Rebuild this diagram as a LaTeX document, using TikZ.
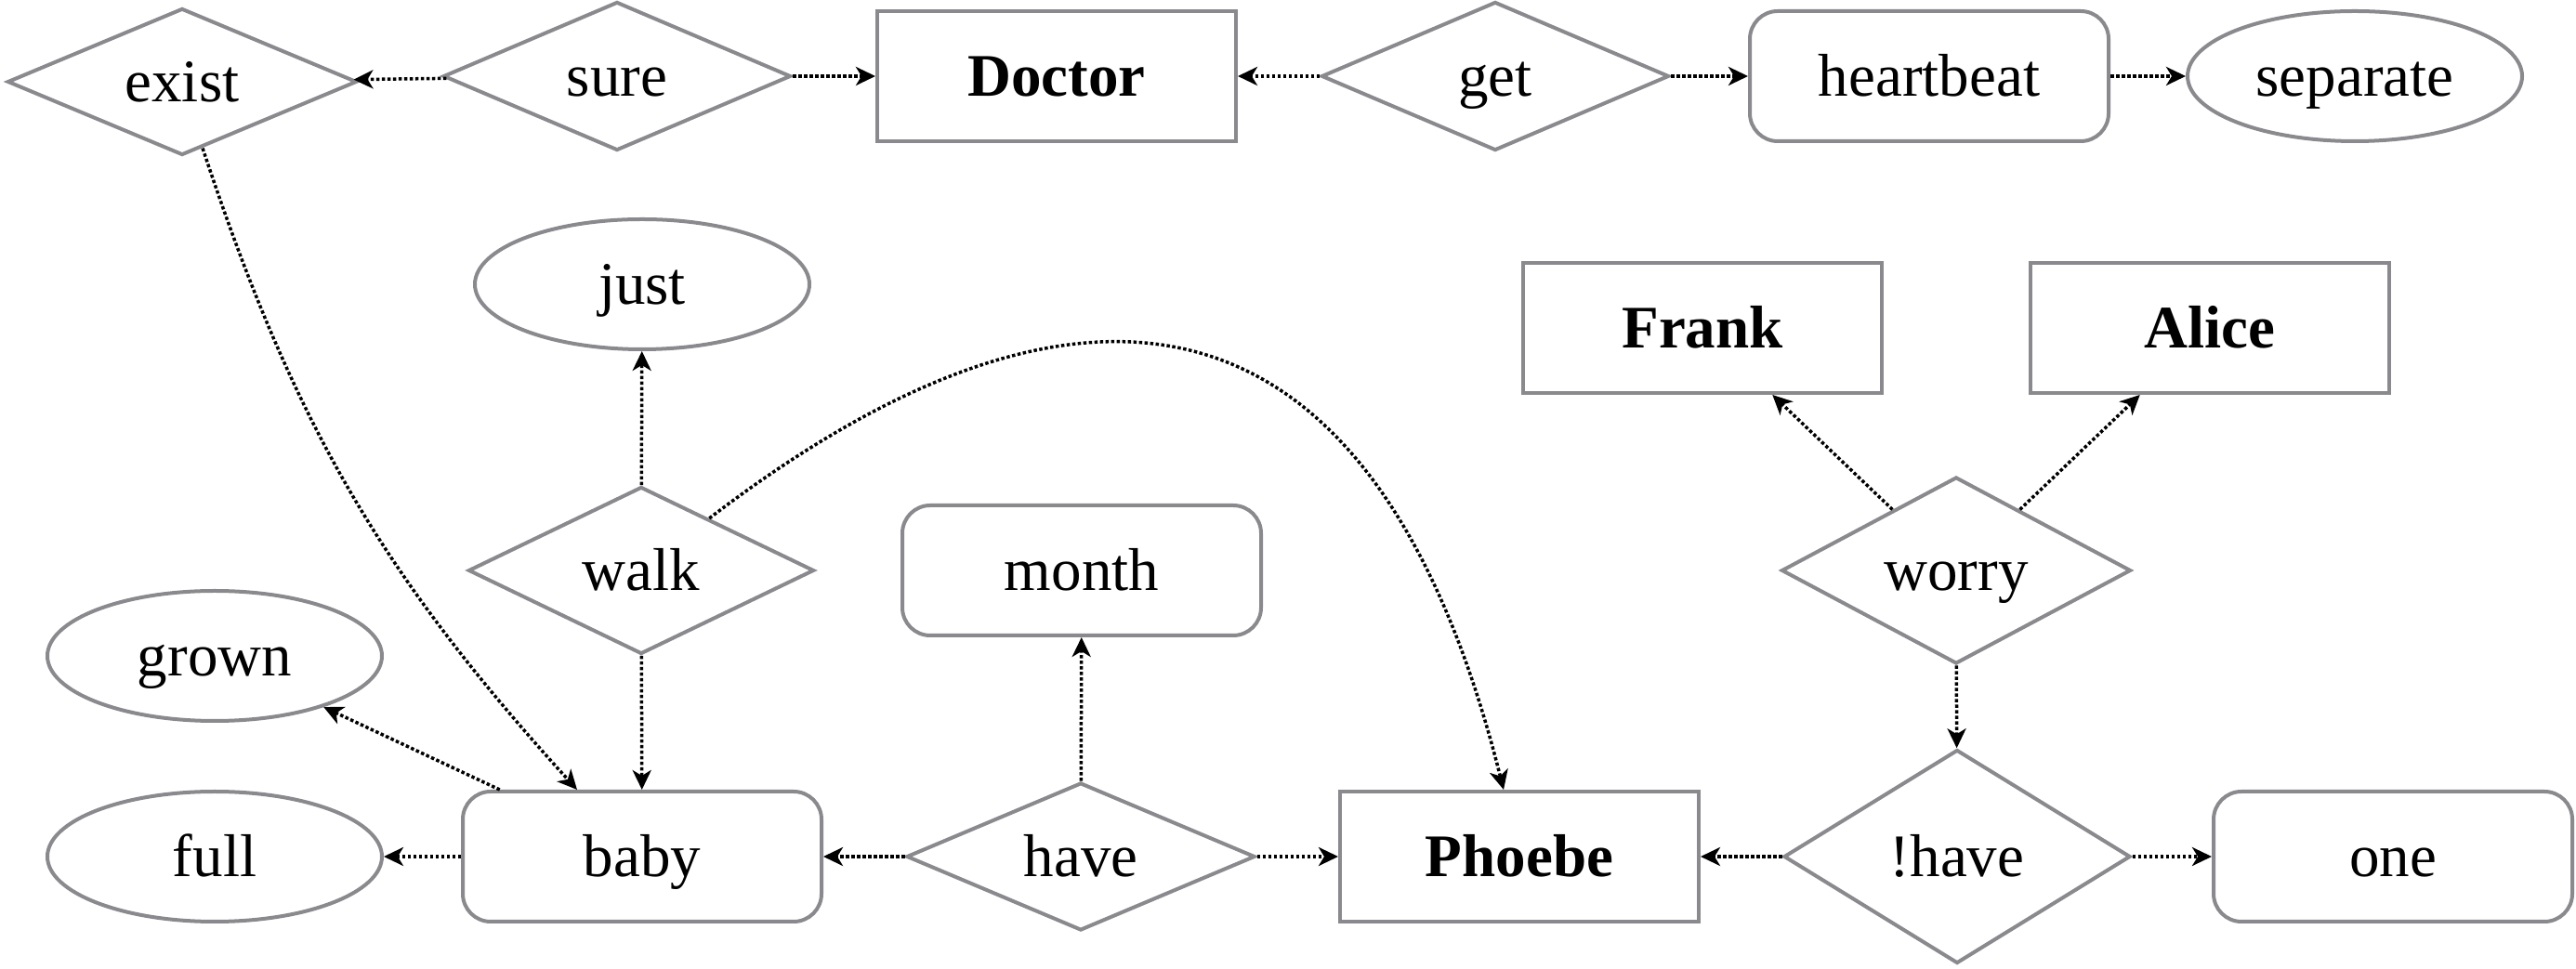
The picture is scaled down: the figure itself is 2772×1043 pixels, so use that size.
\documentclass[tikz,border=0pt]{standalone}
\usepackage{fontspec}
\setmainfont{Liberation Serif}
\usetikzlibrary{shapes.geometric,arrows.meta}
\definecolor{bordergray}{RGB}{138,138,142}
\tikzset{
  base/.style={draw=bordergray, line width=4pt, inner sep=0pt, align=center,
    text height=58pt, text depth=14pt,
    font=\fontsize{65}{78}\selectfont},
  entbox/.style={base, rectangle, minimum width=386pt, minimum height=140pt, font=\fontsize{65}{78}\selectfont\bfseries},
  roundbox/.style={base, rectangle, rounded corners=30pt, minimum width=386pt, minimum height=140pt},
  ellbox/.style={base, ellipse, minimum width=360pt, minimum height=140pt},
  relbox/.style={base, diamond, aspect=2.5, minimum width=374pt, minimum height=160pt},
  conn/.style={line width=3.5pt, dash pattern=on 3.5pt off 2.5pt,
    -{Stealth[length=21pt,width=20pt,inset=6pt]}}
}
\begin{document}
\begin{tikzpicture}[x=1pt,y=1pt]
\useasboundingbox (0,0) rectangle (2772,1043);
% top row
\node[relbox, minimum width=376pt, minimum height=158pt] (exist) at (196,955) {exist};
\node[relbox] (sure) at (664,961) {sure};
\node[entbox] (doctor) at (1137,961) {Doctor};
\node[relbox] (get) at (1609,961) {get};
\node[roundbox] (heartbeat) at (2076,961) {heartbeat};
\node[ellbox] (separate) at (2534,961) {separate};
% second row
\node[ellbox] (just) at (691,737) {just};
\node[entbox] (frank) at (1832,690) {Frank};
\node[entbox] (alice) at (2378,690) {Alice};
% middle row
\node[relbox, minimum width=372pt, minimum height=180pt] (walk) at (690,429) {walk};
\node[roundbox] (month) at (1164,429) {month};
\node[relbox, minimum width=376pt, minimum height=201pt] (worry) at (2105,429) {worry};
\node[ellbox] (grown) at (231,337) {grown};
% bottom row
\node[ellbox] (full) at (231,121) {full};
\node[roundbox] (baby) at (691,121) {baby};
\node[relbox, minimum width=375pt, minimum height=159pt] (have) at (1163,121) {have};
\node[entbox] (phoebe) at (1635,121) {Phoebe};
\node[relbox, minimum width=373pt, minimum height=230pt] (nothave) at (2106,121) {!have};
\node[roundbox] (one) at (2575,121) {one};
% connectors
\draw[conn] (sure) -- (exist);
\draw[conn] (sure) -- (doctor);
\draw[conn] (get) -- (doctor);
\draw[conn] (get) -- (heartbeat);
\draw[conn] (heartbeat) -- (separate);
\draw[conn] (exist) to[bend right=12] ([xshift=-70pt]baby.north);
\draw[conn] (walk) -- (just);
\draw[conn] (walk) -- (baby);
\draw[conn] (walk) .. controls (1108,749) and (1464,807) .. ([xshift=-17pt]phoebe.north);
\draw[conn] (baby) -- (grown);
\draw[conn] (baby) -- (full);
\draw[conn] (have) -- (baby);
\draw[conn] (have) -- (month);
\draw[conn] (have) -- (phoebe);
\draw[conn] (nothave) -- (phoebe);
\draw[conn] (nothave) -- (one);
\draw[conn] (worry) -- (frank);
\draw[conn] (worry) -- (alice);
\draw[conn] (worry) -- (nothave);
\end{tikzpicture}
\end{document}
